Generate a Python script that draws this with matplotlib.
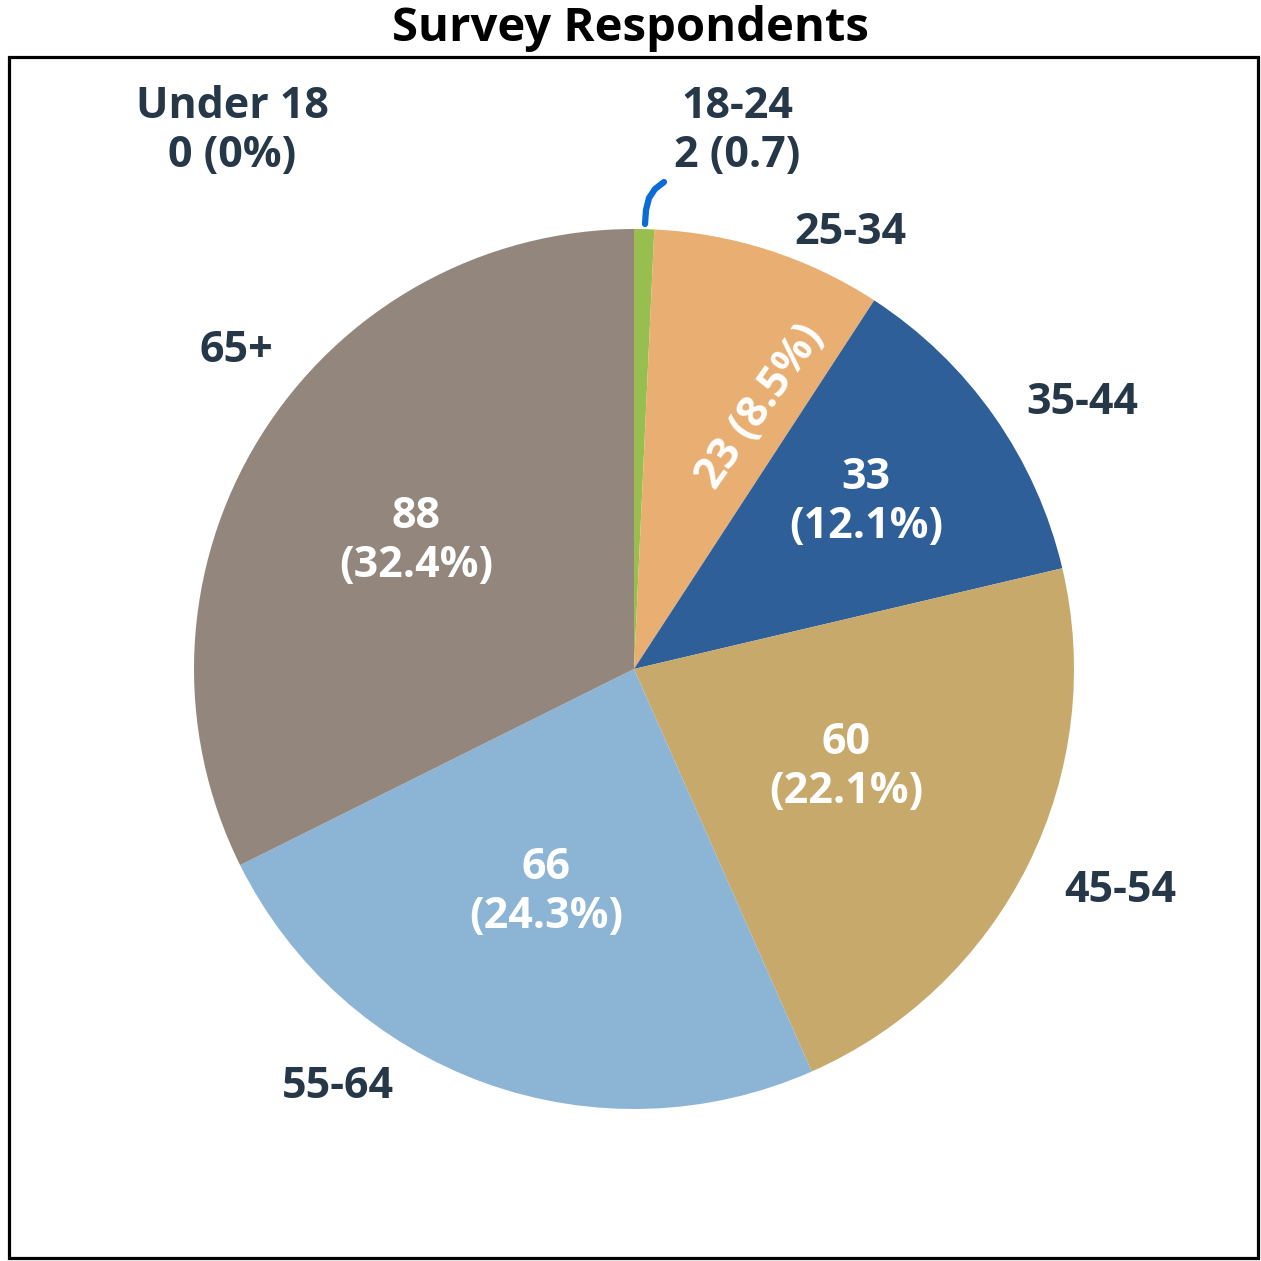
import matplotlib.pyplot as plt
from matplotlib.patches import Rectangle

# data
groups = ["Under 18", "18-24", "25-34", "35-44", "45-54", "55-64", "65+"]
counts = [0, 2, 23, 33, 60, 66, 88]
colors = ["#5B9BD5", "#97BE4E", "#E9AE72", "#2E5F98", "#C8A96C", "#8CB4D5", "#93877D"]

total = sum(counts)
pcts = [100.0 * v / total for v in counts]

W = H = 1261
fig = plt.figure(figsize=(12.61, 12.61), dpi=100)
ax = fig.add_axes([0, 0, 1, 1])

# pie in pixel space (y measured from bottom)
cx, cy, r = 634, H - 669, 440
ax.pie(counts, colors=colors, startangle=90, counterclock=False,
       center=(cx, cy), radius=r, wedgeprops=dict(linewidth=0))
ax.set_xlim(0, W)
ax.set_ylim(0, H)
ax.set_aspect("equal")
ax.axis("off")

# frame
ax.add_patch(Rectangle((9, 3), 1249, 1201, fill=False, lw=2.3, ec="black"))

font = ["Open Sans", "DejaVu Sans"]
dark = "#263748"
fs = 31
ls = 1.18

ax.text(630, H - 28, "Survey Respondents", ha="center", va="center",
        fontsize=34, fontweight="bold", family=font, color="black")

# outside labels
ax.text(232, H - 131, "Under 18\n%d (%d%%)" % (counts[0], round(pcts[0])),
        ha="center", va="center", fontsize=fs, fontweight="bold",
        family=font, color=dark, linespacing=ls)
ax.text(737, H - 131, "18-24\n%d (%.1f)" % (counts[1], pcts[1]),
        ha="center", va="center", fontsize=fs, fontweight="bold",
        family=font, color=dark, linespacing=ls)
ax.text(850, H - 233, groups[2], ha="center", va="center", fontsize=fs,
        fontweight="bold", family=font, color=dark)
ax.text(1082, H - 402, groups[3], ha="center", va="center", fontsize=fs,
        fontweight="bold", family=font, color=dark)
ax.text(1120, H - 890, groups[4], ha="center", va="center", fontsize=fs,
        fontweight="bold", family=font, color=dark)
ax.text(338, H - 1086, groups[5], ha="center", va="center", fontsize=fs,
        fontweight="bold", family=font, color=dark)
ax.text(236, H - 350, groups[6], ha="center", va="center", fontsize=fs,
        fontweight="bold", family=font, color=dark)

# inside labels
ax.text(760, H - 407, "%d (%.1f%%)" % (counts[2], pcts[2]), rotation=55,
        rotation_mode="anchor", ha="center", va="center", fontsize=fs,
        fontweight="bold", family=font, color="white")
inside = [(3, 866, 502), (4, 846, 767), (5, 546, 892), (6, 416, 541)]
for i, x, y in inside:
    ax.text(x, H - y, "%d\n(%.1f%%)" % (counts[i], pcts[i]), ha="center",
            va="center", fontsize=fs, fontweight="bold", family=font,
            color="white", linespacing=ls)

# hand-drawn pointer to the small slice
ax.plot([645, 646, 649, 655, 664], [H - 224, H - 210, H - 198, H - 189, H - 182],
        color="#0A6CD5", lw=4.5, solid_capstyle="round")

fig.savefig("out.png", dpi=100)
